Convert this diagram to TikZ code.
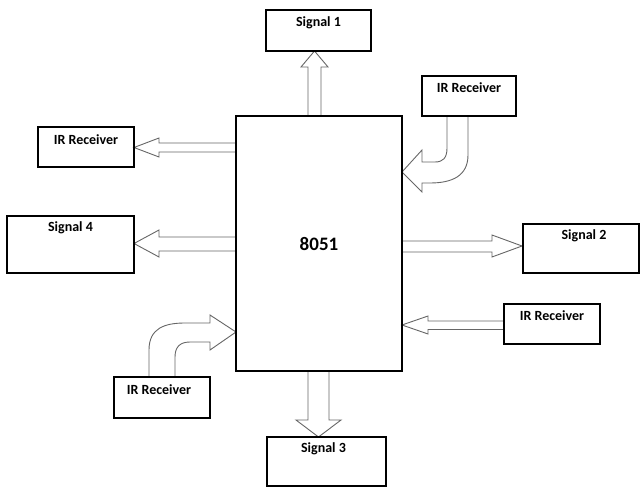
\documentclass[tikz,border=0pt]{standalone}
\usepackage{fontspec}
\setmainfont{Carlito}
\begin{document}
\begin{tikzpicture}[x=1pt,y=-1pt,
  blk/.style={draw=black,line width=1.2pt,rectangle,inner sep=0pt},
  lbl/.style={font=\fontsize{14}{16}\selectfont\bfseries},
  barrow/.style={draw=black!60,line width=0.9pt,line join=miter,fill=white}]
\useasboundingbox (0,0) rectangle (640,487);
% block arrows
\draw[barrow] (308,116) -- (308,67) -- (301,67) -- (314.5,51) -- (328,67) -- (321,67) -- (321,116);
\draw[barrow] (236,143) -- (159,143) -- (159,138) -- (134,147.5) -- (159,157) -- (159,152) -- (236,152);
\draw[barrow] (236,237) -- (159,237) -- (159,230) -- (134,243.5) -- (159,257) -- (159,251) -- (236,251);
\draw[barrow] (402,241) -- (492,241) -- (492,235) -- (522,246) -- (492,257) -- (492,252) -- (402,252);
\draw[barrow] (504,321) -- (428,321) -- (428,316) -- (402,325) -- (428,334) -- (428,329.5) -- (504,329.5);
\draw[barrow] (308,371) -- (308,420) -- (296,420) -- (318.5,437) -- (341,420) -- (329,420) -- (329,371);
% curved arrow top right
\draw[barrow] (447,116) -- (447,148) .. controls (447,158) and (443,162) .. (435,162) -- (422,162)
  -- (422,150) -- (402,172) -- (422,192) -- (422,183) -- (430,183)
  .. controls (452,183) and (468,176) .. (468,155) -- (468,116);
% curved arrow bottom left
\draw[barrow] (149,377) -- (149,350) .. controls (149,328) and (165,323) .. (185,323) -- (210,323)
  -- (210,315) -- (236,332) -- (210,350) -- (210,342) -- (190,342)
  .. controls (180,342) and (175,347) .. (175,357) -- (175,377);
% boxes
\node[blk,minimum width=166pt,minimum height=255pt,font=\fontsize{19}{22}\selectfont\bfseries,text depth=0pt] (mcu) at (319,243.5) {8051};
\node[blk,minimum width=105pt,minimum height=41pt,label={[lbl,anchor=center,yshift=-13.5pt]north:Signal 1}] (s1) at (318.5,30.5) {};
\node[blk,minimum width=94pt,minimum height=40pt,label={[lbl,anchor=center,yshift=-12.5pt]north:IR Receiver}] (irtr) at (469,96) {};
\node[blk,minimum width=96pt,minimum height=40pt,label={[lbl,anchor=center,yshift=-13.5pt]north:IR Receiver}] (irtl) at (86,147) {};
\node[blk,minimum width=127pt,minimum height=57pt,label={[lbl,anchor=center,yshift=-12pt]north:Signal 4}] (s4) at (70.5,244.5) {};
\node[blk,minimum width=116pt,minimum height=49pt,label={[lbl,anchor=center,yshift=-12pt,xshift=3pt]north:Signal 2}] (s2) at (581,248.5) {};
\node[blk,minimum width=96pt,minimum height=40pt,label={[lbl,anchor=center,yshift=-12.5pt]north:IR Receiver}] (irbr) at (552,324) {};
\node[blk,minimum width=96pt,minimum height=41pt,label={[lbl,anchor=center,yshift=-13.5pt,xshift=-3pt]north:IR Receiver}] (irbl) at (162,397.5) {};
\node[blk,minimum width=119pt,minimum height=49pt,label={[lbl,anchor=center,yshift=-12pt,xshift=-3pt]north:Signal 3}] (s3) at (326.5,461.5) {};
\end{tikzpicture}
\end{document}
